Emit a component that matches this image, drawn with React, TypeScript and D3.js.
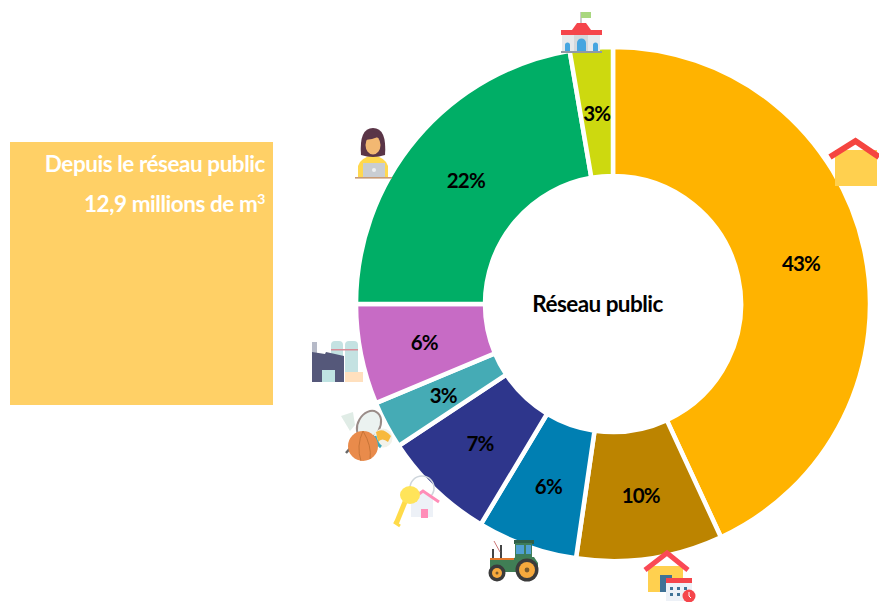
import React from 'react';
import * as d3 from 'd3';

// parts of the public network volume (%)
const categories = ['Logements', 'Saisonnier', 'Agriculture', 'Locatif', 'Sport', 'Industrie', 'Bureaux', 'Collectivités'];
const shares = [43.1, 9.2, 6.3, 7.1, 3, 6.3, 22.3, 2.7];
const labels = ['43%', '10%', '6%', '7%', '3%', '6%', '22%', '3%'];
const colors = ['#FFB300', '#BC8400', '#007FB2', '#2E368C', '#45ABB5', '#C76BC5', '#00AE66', '#CDD90F'];

const WIDTH = 879;
const HEIGHT = 602;
const FONT = 'Lato, "Open Sans", sans-serif';

function HouseIcon() {
  return (
    <g>
      <rect x={835} y={150} width={42} height={36} fill="#FFD04F" />
      <path d="M830 157 L855.5 141 L879 157" fill="none" stroke="#F5443F" strokeWidth={6} />
    </g>
  );
}

function SchoolIcon() {
  return (
    <g>
      <path d="M581 25 V12" stroke="#999" strokeWidth={1} />
      <rect x={581} y={12} width={10} height={6} fill="#A9D77F" />
      <path d="M572 30 L577 23 H586 L591 30 Z" fill="#F5454B" />
      <rect x={562} y={35} width={38} height={17} fill="#E6E9EC" />
      <rect x={574} y={35} width={14} height={17} fill="#D3D8DC" />
      <rect x={561} y={30} width={41} height={5} fill="#F5454B" />
      <path d="M565 52 V45 a2.5 2.5 0 0 1 5 0 V52 Z M577 52 V43 a4.5 4.5 0 0 1 9 0 V52 Z M593 52 V45 a2.5 2.5 0 0 1 5 0 V52 Z" fill="#45A5E0" />
      <rect x={561} y={51} width={41} height={2} fill="#8F9AA5" />
    </g>
  );
}

function WorkerIcon() {
  return (
    <g>
      <path d="M358 177 V166 Q360 158 373 155 Q386 158 388 166 V177 Z" fill="#FFD84F" />
      <path d="M361 155 Q359 128 373 128 Q387 128 385 155 Q373 159 361 155 Z" fill="#5A3547" />
      <ellipse cx={373} cy={145} rx={7.5} ry={9.5} fill="#F2B872" />
      <path d="M365 140 Q374 139 381 136 Q377 131 370 132 Z" fill="#5A3547" />
      <rect x={363} y={163} width={22} height={14} fill="#C9CDD2" />
      <circle cx={374} cy={170} r={2} fill="#EEF0F2" />
      <rect x={355} y={177} width={37} height={1.6} fill="#C79A74" />
    </g>
  );
}

function FactoryIcon() {
  return (
    <g>
      <rect x={331} y={341} width={12} height={32} rx={4} fill="#C4E2E2" />
      <rect x={345} y={341} width={13} height={40} rx={4} fill="#C4E2E2" />
      <rect x={331} y={349} width={27} height={1.5} fill="#D98C98" />
      <rect x={345} y={372} width={18} height={10} fill="#FFE0BE" />
      <rect x={312} y={342} width={5} height={12} fill="#B6BAC8" />
      <path d="M312 352 L325 354 L326 352 L344 356 V382 H312 Z" fill="#55597A" />
      <rect x={322} y={370} width={13} height={12} fill="#BFE3E2" />
    </g>
  );
}

function SportsIcon() {
  return (
    <g>
      <path d="M341 416 L353 412 L355 425 L350 431 Z" fill="#E0ECE6" />
      <path d="M352 446 L346 453" stroke="#666" strokeWidth={2.5} />
      <ellipse cx={369} cy={425} rx={11} ry={15} transform="rotate(30 369 425)" fill="#EBF2F0" stroke="#9A8C88" strokeWidth={2} />
      <circle cx={383} cy={438} r={9.5} fill="#F2F2EA" />
      <path d="M376 432 Q383 427 391 436 L388 442 Q382 437 378 442 Z" fill="#F7B93E" />
      <path d="M375 436 Q376 443 381 447" fill="none" stroke="#3EA9BD" strokeWidth={3} />
      <circle cx={363} cy={446} r={15} fill="#E98B4B" />
      <path d="M363 431 Q356 446 361 461 M363 431 Q372 446 370 459" fill="none" stroke="#C77437" strokeWidth={1} />
    </g>
  );
}

function KeyHouseIcon() {
  return (
    <g>
      <circle cx={422} cy={488} r={12} fill="none" stroke="#CFD6DC" strokeWidth={1.6} />
      <path d="M411 517 V497 L422 490 L433 497 V517 Z" fill="#EDF1F7" />
      <path d="M419 494 L423 491 L439 502" fill="none" stroke="#FF8DB8" strokeWidth={3} />
      <rect x={421} y={509} width={7} height={9} fill="#FF8DB8" />
      <path d="M407 497 L396 524" stroke="#FFDB4A" strokeWidth={5} />
      <path d="M394 522 L400 526" stroke="#FFDB4A" strokeWidth={3} />
      <ellipse cx={410} cy={495} rx={10} ry={9} fill="#FFE45A" />
    </g>
  );
}

function TractorIcon() {
  return (
    <g>
      <path d="M493 549 V558 M501 545 V558" stroke="#444" strokeWidth={2} />
      <path d="M494 541 L500 552" stroke="#C77" strokeWidth={1} />
      <rect x={514} y={540} width={20} height={4} fill="#2F5F4A" />
      <rect x={515} y={543} width={17} height={15} fill="#3C7D5A" />
      <rect x={516} y={545} width={8} height={9} fill="#4FA0D2" />
      <rect x={526} y={545} width={5} height={9} fill="#4FA0D2" />
      <path d="M490 558 H514 L517 557 H534 L538 563 V572 H490 Z" fill="#3F7E55" />
      <rect x={490} y={558} width={24} height={2} fill="#E2762B" />
      <circle cx={527} cy={570} r={11.5} fill="#3A3A3A" />
      <circle cx={527} cy={570} r={8} fill="#F6A93D" />
      <circle cx={527} cy={570} r={2.4} fill="#7B5A2C" />
      <circle cx={497} cy={573} r={8.5} fill="#3A3A3A" />
      <circle cx={497} cy={573} r={5} fill="#F6A93D" />
      <circle cx={497} cy={573} r={1.5} fill="#7B5A2C" />
    </g>
  );
}

function CalendarHouseIcon() {
  return (
    <g>
      <rect x={648} y={566} width={35} height={26} fill="#FFD04F" />
      <rect x={660} y={575} width={12} height={17} fill="#3F7296" />
      <path d="M645 570 L667 553 L688 570" fill="none" stroke="#FA4A55" strokeWidth={5} />
      <rect x={666} y={578} width={26} height={23} fill="#EDF1F7" />
      <rect x={666} y={578} width={26} height={5} fill="#F5454B" />
      <path d="M670 587 h3 v3 h-3 Z M677 587 h3 v3 h-3 Z M684 587 h3 v3 h-3 Z M670 593 h3 v3 h-3 Z M677 593 h3 v3 h-3 Z" fill="#3F7296" />
      <circle cx={689} cy={596} r={6.5} fill="#F5454B" />
      <path d="M689 592 V596 L691 598" fill="none" stroke="#fff" strokeWidth={1} />
    </g>
  );
}

export default function App() {
  const cx = 613;
  const cy = 304;
  const pie = d3.pie<number>().sort(null).value(d => d);
  const arc = d3.arc<d3.PieArcDatum<number>>().innerRadius(128).outerRadius(257);
  const labelArc = d3.arc<d3.PieArcDatum<number>>().innerRadius(130).outerRadius(255);
  const slices = pie(shares);

  return (
    <svg
      width={WIDTH}
      height={HEIGHT}
      viewBox={`0 0 ${WIDTH} ${HEIGHT}`}
      style={{ position: 'absolute', left: 0, top: 0, fontFamily: FONT }}
    >
      <defs>
        <filter id="soft" x="-5%" y="-5%" width="110%" height="110%">
          <feGaussianBlur stdDeviation={0.5} />
        </filter>
      </defs>
      <rect width={WIDTH} height={HEIGHT} fill="#fff" />

      {/* encadré */}
      <rect x={10} y={142} width={263} height={263} fill="#FFD066" />
      <g fill="#fff" fontWeight={700} fontSize={22.5} textAnchor="end" letterSpacing={-0.45}>
        <text x={265} y={172}>Depuis le réseau public</text>
        <text x={265} y={212}>
          12,9 millions de m<tspan fontSize={14} dy={-8}>3</tspan>
        </text>
      </g>

      {/* donut */}
      <g transform={`translate(${cx},${cy})`}>
        {slices.map((s, i) => (
          <path key={categories[i]} d={arc(s) ?? ''} fill={colors[i]} stroke="#fff" strokeWidth={4.5} />
        ))}
        {slices.map((s, i) => {
          const [x, y] = labelArc.centroid(s);
          return (
            <text
              key={categories[i]}
              x={x}
              y={y + 1}
              dy="0.36em"
              textAnchor="middle"
              fontSize={20.5}
              fontWeight={700}
              letterSpacing={-0.8}
              fill="#000"
            >
              {labels[i]}
            </text>
          );
        })}
        <text x={-15.5} textAnchor="middle" dy="0.36em" fontSize={22.5} fontWeight={700} letterSpacing={-0.55} fill="#000">
          Réseau public
        </text>
      </g>

      {/* pictos */}
      <g filter="url(#soft)">
        <HouseIcon />
        <SchoolIcon />
        <WorkerIcon />
        <FactoryIcon />
        <SportsIcon />
        <KeyHouseIcon />
        <TractorIcon />
        <CalendarHouseIcon />
      </g>
    </svg>
  );
}
